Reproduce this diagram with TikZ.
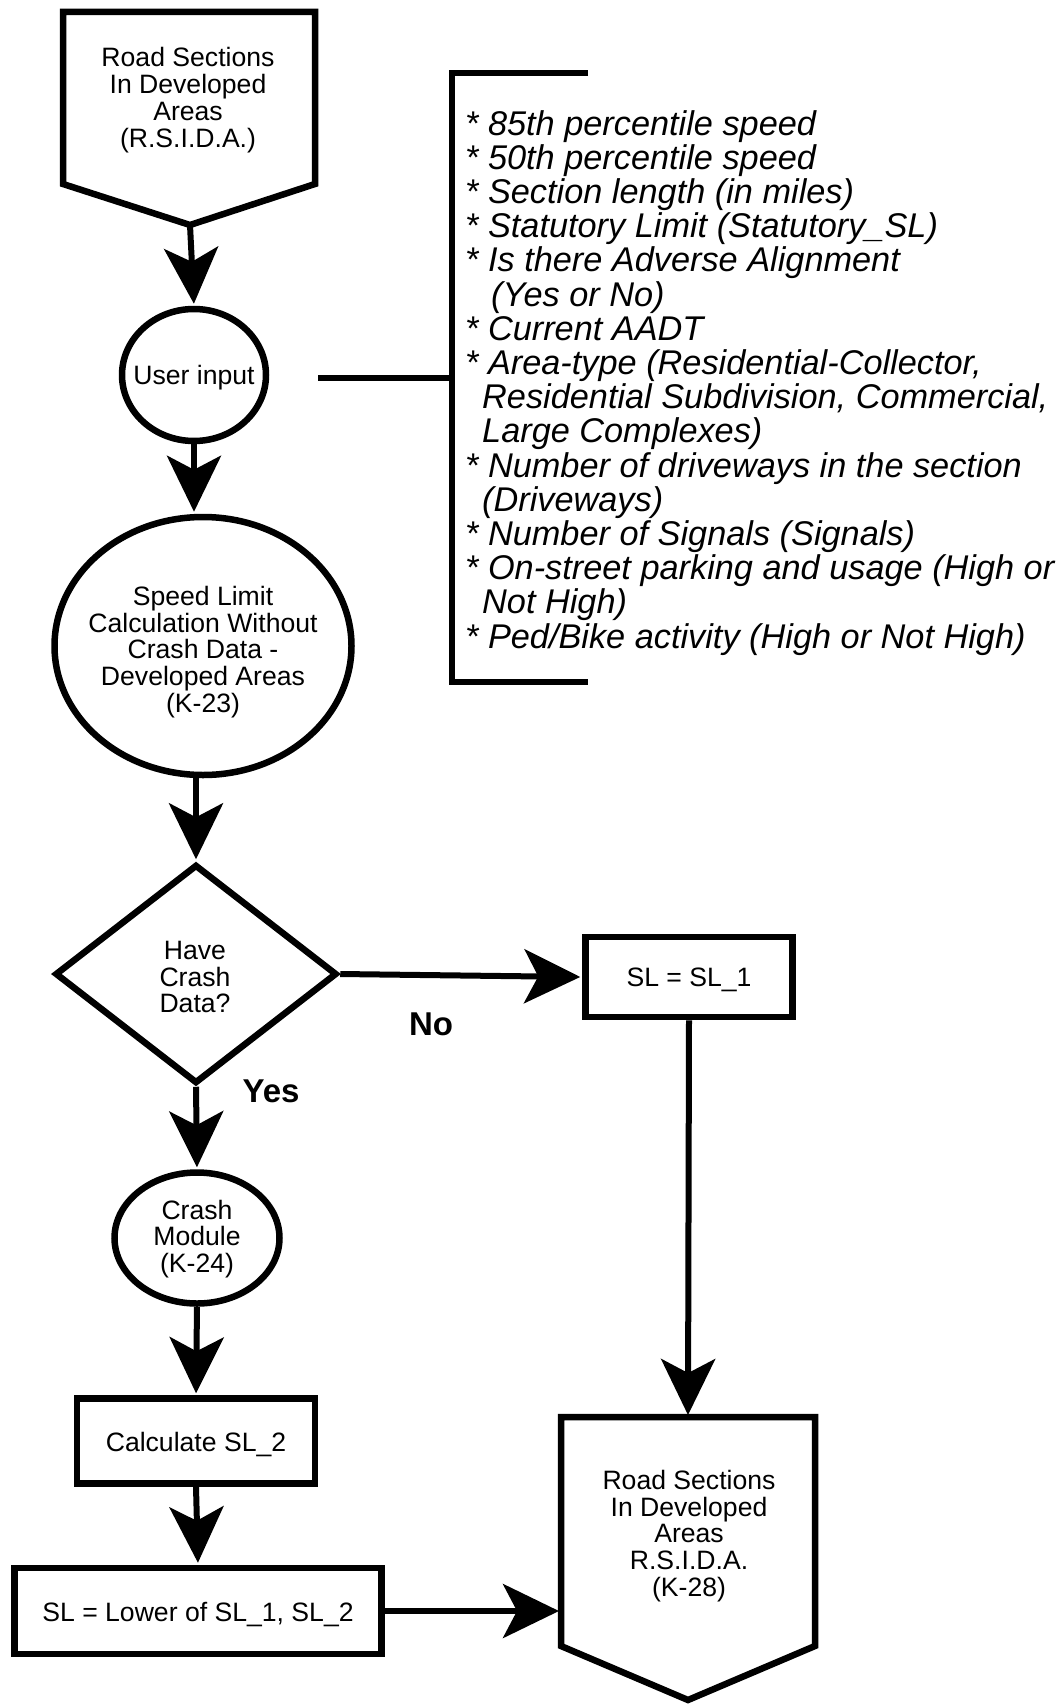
\documentclass[tikz,border=0pt]{standalone}
\usepackage{fontspec}
\setmainfont{Liberation Sans}
\usetikzlibrary{shapes.geometric,arrows.meta,calc}
\begin{document}
\begin{tikzpicture}[x=1pt,y=-1pt,
  txt/.style={inner sep=0pt, align=center, font=\fontsize{26.6}{26.8}\selectfont},
  shp/.style={draw=black, line width=6.5pt, fill=white, inner sep=0pt},
  oval/.style={shp, ellipse},
  box/.style={shp, rectangle},
  dia/.style={shp, diamond},
  pent/.style={draw=black, line width=6.5pt, line join=miter},
  conn/.style={line width=6pt},
  arr/.style={conn, -{Stealth[length=56pt,width=54pt,inset=14pt]}, shorten >=2pt},
  lbl/.style={inner sep=0pt, font=\bfseries\fontsize{33}{35}\selectfont},
  listtxt/.style={anchor=north west, inner sep=0pt, align=left, font=\itshape\fontsize{34.3}{34.2}\selectfont}]
\useasboundingbox (0,0) rectangle (1062,1707);

% top pentagon
\draw[pent] (63,12) -- (315,12) -- (315,184) -- (190,225) -- (63,184) -- cycle;
\coordinate (p1tip) at (190,225);
\node[txt] (p1) at (188,100) {Road Sections\\In Developed\\Areas\\(R.S.I.D.A.)};

% bottom pentagon
\draw[pent] (561,1417) -- (815,1417) -- (815,1646) -- (688,1700) -- (561,1646) -- cycle;
\coordinate (p2top) at (688,1417);
\coordinate (p2left) at (561,1611);
\node[txt] (p2) at (689,1536) {Road Sections\\In Developed\\Areas\\R.S.I.D.A.\\(K-28)};

% shapes
\node[oval, minimum width=144pt, minimum height=132pt] (ui) at (194,375) {};
\node[oval, minimum width=297pt, minimum height=258pt] (sl) at (203,646) {};
\node[dia, minimum width=282pt, minimum height=219pt] (hc) at (196,974) {};
\node[box, minimum width=207pt, minimum height=80pt] (sl1) at (689,977) {};
\node[oval, minimum width=165pt, minimum height=131pt] (cm) at (197,1238) {};
\node[box, minimum width=238pt, minimum height=85pt] (calc) at (196,1441) {};
\node[box, minimum width=367pt, minimum height=86pt] (low) at (198,1611) {};

% texts
\node[txt] (uit) at ($(ui)+(0,3)$) {User input};
\node[txt] (slt) at ($(sl)+(0,6)$) {Speed Limit\\Calculation Without\\Crash Data -\\Developed Areas\\(K-23)};
\node[txt] (hct) at ($(hc)+(-1,3)$) {Have\\Crash\\Data?};
\node[txt] (sl1t) at ($(sl1)+(0,3)$) {SL = SL\_1};
\node[txt] (cmt) at ($(cm)+(0,1)$) {Crash\\Module\\(K-24)};
\node[txt] (calct) at ($(calc)+(0,3)$) {Calculate SL\_2};
\node[txt] (lowt) at ($(low)+(0,3)$) {SL = Lower of SL\_1, SL\_2};

% bracket and list
\coordinate (uiend) at (318,378);
\coordinate (brk) at (452,378);
\coordinate (brktop) at (588,73);
\coordinate (brkbot) at (588,682);
\draw[conn] (brktop) -- (452,73) -- (452,682) -- (brkbot);
\draw[conn] (uiend) -- (brk);
\node[listtxt] (list) at (465,110) {%
* 85th percentile speed\\
* 50th percentile speed\\
* Section length (in miles)\\
* Statutory Limit (Statutory\_SL)\\
* Is there Adverse Alignment\\
\hspace*{26pt}(Yes or No)\\
* Current AADT\\
* Area-type (Residential-Collector,\\
\hspace*{17pt}Residential Subdivision, Commercial,\\
\hspace*{17pt}Large Complexes)\\
* Number of driveways in the section\\
\hspace*{17pt}(Driveways)\\
* Number of Signals (Signals)\\
* On-street parking and usage (High or\\
\hspace*{17pt}Not High)\\
* Ped/Bike activity (High or Not High)};

% connectors
\draw[arr] (p1tip) -- (ui.north);
\draw[arr] (ui.south) -- (ui.south |- sl.north);
\draw[arr] (hc.north |- sl.south) -- (hc.north);
\draw[arr] (hc.east) -- (sl1.west);
\draw[arr] (hc.south) -- (cm.north);
\draw[arr] (cm.south) -- (calc.north);
\draw[arr] (calc.south) -- (low.north);
\draw[arr] (low.east) -- (p2left);
\draw[arr] (sl1.south) -- (p2top);

% labels
\node[lbl] (no) at (431,1024) {No};
\node[lbl] (yes) at (271,1091) {Yes};
\end{tikzpicture}
\end{document}
